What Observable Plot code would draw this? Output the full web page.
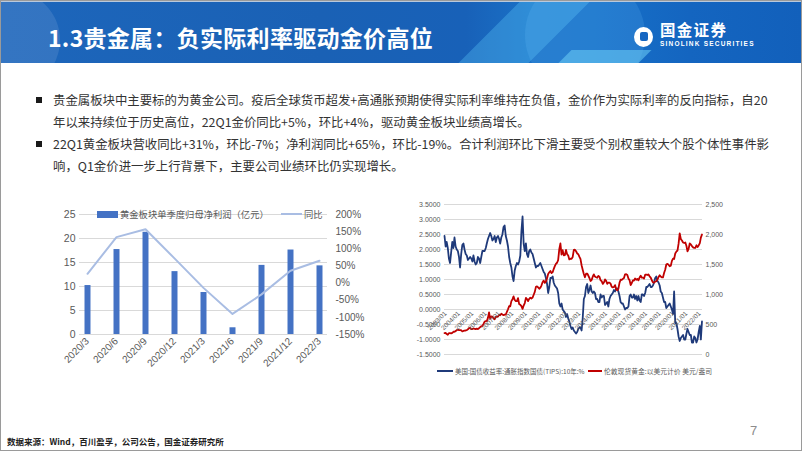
<!DOCTYPE html>
<html><head><meta charset="utf-8">
<script src="https://cdn.jsdelivr.net/npm/d3@7"></script>
<script src="https://cdn.jsdelivr.net/npm/@observablehq/plot@0.6"></script>
<style>
html,body{margin:0;padding:0;background:#fff;}
#slide{position:relative;width:802px;height:451px;overflow:hidden;background:#fff;font-family:"Noto Sans CJK SC","Noto Sans",sans-serif;}
#frame{position:absolute;left:0;top:0;width:802px;height:451px;box-sizing:border-box;border:1px solid #9a9a9a;pointer-events:none;}
#header{position:absolute;left:0;top:0;width:802px;height:63px;overflow:hidden;
 background:linear-gradient(90deg,#1d66bb 0%,#1a61b5 40%,#1861b8 58%,#1a70c6 66%,#1670c8 74%,#1465c0 86%,#1260bb 100%);}
.deco{position:absolute;border-radius:50%;}
#title{position:absolute;left:48px;top:21px;font-size:23px;font-weight:bold;color:#fff;line-height:32px;white-space:nowrap;letter-spacing:0.3px;}
.bul{position:absolute;left:36px;width:6px;height:6px;background:#1a1a1a;}
.line{position:absolute;left:53px;font-size:12.4px;line-height:18px;color:#333;white-space:nowrap;}
.lg{position:absolute;white-space:nowrap;color:#595959;}
</style></head>
<body>
<div id="slide">
  <div id="header">
    <div class="deco" style="left:-40px;top:-10px;width:100px;height:100px;background:rgba(255,255,255,0.10);"></div>
    <div style="position:absolute;left:490px;top:0;width:70px;height:63px;background:rgba(90,195,245,0.35);transform:skewX(-45deg);"></div>
    <div class="deco" style="left:525px;top:-25px;width:120px;height:120px;background:rgba(120,200,255,0.16);"></div>
    <div style="position:absolute;left:565px;top:50px;width:80px;height:13px;background:rgba(110,205,245,0.55);transform:skewX(-45deg);"></div>
    <div style="position:absolute;left:0;top:0;width:802px;height:2px;background:#b9c9dc;"></div>
    <div id="title">1.3贵金属：负实际利率驱动金价高位</div>
    <div style="position:absolute;left:634px;top:27px;width:19px;height:20px;border-radius:50%;background:#fff;"></div>
    <div style="position:absolute;left:640px;top:32px;width:8px;height:9px;border-radius:2px;background:#1566c2;"></div>
    <div style="position:absolute;left:660px;top:20px;font-size:15.5px;font-weight:bold;color:#fff;line-height:19px;letter-spacing:1.3px;">国金证券</div>
    <div style="position:absolute;left:660px;top:40px;font-size:6.5px;font-weight:bold;color:#fff;line-height:8px;font-family:'Liberation Sans',Arial,sans-serif;white-space:nowrap;letter-spacing:1.2px;">SINOLINK SECURITIES</div>
  </div>

  <div class="bul" style="top:97px"></div>
  <div class="line" style="top:91px">贵金属板块中主要标的为黄金公司。疫后全球货币超发+高通胀预期使得实际利率维持在负值，金价作为实际利率的反向指标，自20</div>
  <div class="line" style="top:113px">年以来持续位于历史高位，22Q1金价同比+5%，环比+4%，驱动黄金板块业绩高增长。</div>
  <div class="bul" style="top:141px"></div>
  <div class="line" style="top:135px">22Q1黄金板块营收同比+31%，环比-7%；净利润同比+65%，环比-19%。合计利润环比下滑主要受个别权重较大个股个体性事件影</div>
  <div class="line" style="top:157px">响，Q1金价进一步上行背景下，主要公司业绩环比仍实现增长。</div>

  <div id="left" style="position:absolute;left:40px;top:195px;"></div>
  <div id="right" style="position:absolute;left:400px;top:195px;"></div>

  <div style="position:absolute;left:97px;top:211px;width:21px;height:7px;background:#4472C4;"></div>
  <div class="lg" style="left:120px;top:207px;font-size:9.3px;line-height:14px;">黄金板块单季度归母净利润（亿元）</div>
  <div style="position:absolute;left:281px;top:213px;width:21px;height:2px;background:#A9BDE3;"></div>
  <div class="lg" style="left:304px;top:207px;font-size:9.3px;line-height:14px;">同比</div>

  <div style="position:absolute;left:437px;top:370px;width:16px;height:2px;background:#1F3A7A;"></div>
  <div class="lg" style="left:455px;top:366px;font-size:6.5px;line-height:10px;">美国:国债收益率:通胀指数国债(TIPS):10年:%</div>
  <div style="position:absolute;left:588px;top:370px;width:14px;height:2px;background:#C00000;"></div>
  <div class="lg" style="left:604px;top:366px;font-size:6.8px;line-height:10px;">伦敦现货黄金:以美元计价 美元/盎司</div>

  <div style="position:absolute;left:7px;top:435px;font-size:8.5px;font-weight:bold;color:#222;line-height:12px;white-space:nowrap;">数据来源：Wind，百川盈孚，公司公告，国金证券研究所</div>
  <div style="position:absolute;left:750px;top:422px;font-size:13px;color:#8c8c8c;line-height:18px;font-family:'Liberation Sans',Arial,sans-serif;">7</div>
  <div id="frame"></div>
</div>
<script>
// ---- Left chart data ----
const quarters = ["2020/3","2020/6","2020/9","2020/12","2021/3","2021/6","2021/9","2021/12","2022/3"];
const profit = [10.2, 17.7, 21.3, 13.1, 8.75, 1.4, 14.4, 17.6, 14.3];
const yoy = [27, 134, 157, 72, -14, -90, -33, 36, 65];
const profitTicks = [0, 5, 10, 15, 20, 25];
const yoyTicks = [-150, -100, -50, 0, 50, 100, 150, 200];

// ---- Right chart data (monthly, from 2003/01) ----
const startYear = 2003;
const tipsMonthly = [
  2.45, 2.10, 2.25, 2.05, 1.70, 1.55, 1.90, 2.25, 2.05, 2.40, 2.10, 2.00, // 2003
  1.95, 1.75, 1.40, 1.85, 2.15, 2.20, 2.00, 1.85, 1.80, 1.65, 1.70, 1.75, // 2004
  1.70, 1.60, 1.80, 1.60, 1.50, 1.55, 1.75, 1.70, 1.55, 1.75, 1.95, 1.95, // 2005
  1.95, 2.05, 2.20, 2.35, 2.45, 2.55, 2.45, 2.30, 2.35, 2.45, 2.25, 2.40, // 2006
  2.45, 2.35, 2.20, 2.40, 2.50, 2.75, 2.80, 2.45, 2.30, 2.10, 1.75, 1.55, // 2007
  1.40, 1.10, 0.95, 1.30, 1.45, 1.55, 1.50, 1.60, 1.80, 2.60, 3.10, 2.20, // 2008
  1.95, 2.20, 1.85, 1.75, 1.95, 2.00, 1.90, 1.85, 1.70, 1.55, 1.40, 1.45, // 2009
  1.45, 1.50, 1.55, 1.45, 1.35, 1.25, 1.20, 1.05, 0.85, 0.55, 0.75, 1.05, // 2010
  1.05, 1.10, 0.90, 0.80, 0.75, 0.70, 0.55, 0.20, 0.10, 0.20, 0.00, -0.05, // 2011
  -0.10, -0.25, -0.15, -0.30, -0.40, -0.55, -0.65, -0.60, -0.70, -0.75, -0.80, -0.75, // 2012
  -0.65, -0.60, -0.60, -0.70, -0.30, 0.35, 0.45, 0.75, 0.85, 0.55, 0.65, 0.80, // 2013
  0.60, 0.55, 0.60, 0.55, 0.35, 0.35, 0.25, 0.25, 0.50, 0.40, 0.45, 0.45, // 2014
  0.15, 0.20, 0.25, 0.10, 0.35, 0.45, 0.50, 0.55, 0.65, 0.60, 0.70, 0.70, // 2015
  0.60, 0.45, 0.25, 0.20, 0.20, 0.10, 0.00, 0.05, 0.05, 0.10, 0.45, 0.50, // 2016
  0.40, 0.40, 0.50, 0.35, 0.45, 0.30, 0.45, 0.30, 0.25, 0.50, 0.50, 0.45, // 2017
  0.55, 0.75, 0.75, 0.80, 0.85, 0.75, 0.75, 0.80, 0.90, 1.05, 1.10, 0.95, // 2018
  0.90, 0.80, 0.60, 0.55, 0.40, 0.25, 0.25, 0.05, 0.10, 0.15, 0.20, 0.10, // 2019
  0.00, -0.15, 0.60, -0.45, -0.45, -0.65, -0.90, -1.05, -0.95, -0.90, -0.85, -1.00, // 2020
  -1.00, -0.80, -0.65, -0.75, -0.85, -0.85, -1.10, -1.10, -0.90, -0.95, -1.10, -1.00, // 2021
  -0.75, -0.55, -1.00, -0.40 // 2022
];
const goldMonthly = [
  356, 359, 340, 328, 355, 356, 351, 360, 379, 379, 389, 407, // 2003
  414, 405, 406, 404, 384, 392, 398, 400, 406, 420, 439, 442, // 2004
  424, 424, 434, 429, 422, 430, 424, 438, 456, 470, 476, 510, // 2005
  549, 555, 557, 610, 700, 596, 633, 632, 598, 586, 627, 629, // 2006
  631, 665, 655, 679, 667, 655, 665, 665, 712, 754, 806, 803, // 2007
  889, 922, 968, 909, 888, 889, 939, 839, 829, 806, 760, 816, // 2008
  858, 943, 924, 890, 928, 946, 934, 949, 996, 1043, 1127, 1134, // 2009
  1118, 1095, 1113, 1149, 1205, 1232, 1193, 1215, 1271, 1343, 1370, 1391, // 2010
  1356, 1372, 1424, 1474, 1510, 1529, 1572, 1756, 1850, 1666, 1739, 1652, // 2011
  1656, 1742, 1673, 1650, 1585, 1596, 1594, 1626, 1744, 1747, 1721, 1684, // 2012
  1671, 1627, 1593, 1487, 1414, 1343, 1286, 1347, 1349, 1316, 1275, 1225, // 2013
  1244, 1300, 1336, 1299, 1288, 1279, 1311, 1296, 1238, 1222, 1176, 1200, // 2014
  1251, 1227, 1178, 1198, 1199, 1181, 1128, 1118, 1125, 1157, 1086, 1068, // 2015
  1097, 1199, 1246, 1242, 1260, 1276, 1337, 1340, 1326, 1267, 1238, 1157, // 2016
  1192, 1234, 1231, 1266, 1246, 1260, 1236, 1283, 1314, 1280, 1282, 1265, // 2017
  1331, 1331, 1325, 1335, 1303, 1282, 1238, 1202, 1199, 1215, 1221, 1250, // 2018
  1291, 1320, 1301, 1286, 1284, 1359, 1413, 1500, 1511, 1495, 1471, 1480, // 2019
  1560, 1597, 1592, 1683, 1715, 1733, 1847, 2020, 1922, 1900, 1866, 1858, // 2020
  1867, 1808, 1718, 1760, 1850, 1834, 1807, 1785, 1776, 1777, 1821, 1790, // 2021
  1817, 1856, 1948, 2000 // 2022
];
const tipsTicks = [-1.5, -1, -0.5, 0, 0.5, 1, 1.5, 2, 2.5, 3, 3.5];
const goldTicks = [0, 500, 1000, 1500, 2000, 2500];
const yearLabels = d3.range(2003, 2023);

const FONT = "'Liberation Sans', Arial, sans-serif";

// ---- Left chart ----
const toLeft = p => (p + 150) / 350 * 25;
const fromLeft = v => Math.round(v / 25 * 350 - 150);
const leftRows = quarters.map((q, i) => ({q, profit: profit[i], yoy: yoy[i]}));
const leftPlot = Plot.plot({
  width: 330, height: 180,
  marginLeft: 39, marginRight: 43, marginTop: 19, marginBottom: 41,
  style: {fontFamily: FONT, color: "#595959", background: "transparent"},
  x: {type: "point", domain: quarters, padding: 0.2},
  y: {domain: [0, 25]},
  marks: [
    Plot.gridY(profitTicks, {stroke: "#d9d9d9", strokeOpacity: 1}),
    Plot.ruleX(leftRows, {x: "q", y1: 0, y2: "profit", stroke: "#4472C4", strokeWidth: 6}),
    Plot.line(leftRows, {x: "q", y: d => toLeft(d.yoy), stroke: "#A9BDE3", strokeWidth: 2}),
    Plot.axisY(profitTicks, {anchor: "left", tickSize: 0, tickPadding: 4, fontSize: 10.5, label: null}),
    Plot.axisY(yoyTicks.map(toLeft), {anchor: "right", tickSize: 0, tickPadding: 8, fontSize: 10, label: null,
      tickFormat: v => fromLeft(v) + "%"}),
    Plot.axisX({anchor: "bottom", tickSize: 0, tickPadding: 5, tickRotate: -45, fontSize: 10, label: null,
      textAnchor: "end"})
  ]
});
document.getElementById("left").appendChild(leftPlot);

// ---- Right chart ----
const toTips = g => g / 2500 * 5 - 1.5;
const tipsRows = tipsMonthly.map((v, i) => ({date: new Date(Date.UTC(startYear, i, 1)), v}));
const goldRows = goldMonthly.map((v, i) => ({date: new Date(Date.UTC(startYear, i, 1)), v}));
const rightPlot = Plot.plot({
  width: 330, height: 165,
  marginLeft: 44, marginRight: 28, marginTop: 9, marginBottom: 6,
  style: {fontFamily: FONT, color: "#595959", background: "transparent"},
  x: {type: "utc", domain: [new Date(Date.UTC(2003, 0, 1)), new Date(Date.UTC(2022, 3, 15))], axis: null},
  y: {domain: [-1.5, 3.5]},
  marks: [
    Plot.gridY(tipsTicks, {stroke: "#d9d9d9", strokeOpacity: 1}),
    Plot.line(tipsRows, {x: "date", y: "v", stroke: "#1F3A7A", strokeWidth: 1.8}),
    Plot.line(goldRows, {x: "date", y: d => toTips(d.v), stroke: "#C00000", strokeWidth: 1.8}),
    Plot.axisY(tipsTicks, {anchor: "left", tickSize: 0, tickPadding: 4, fontSize: 7, label: null,
      tickFormat: v => v.toFixed(4)}),
    Plot.axisY(goldTicks.map(toTips), {anchor: "right", tickSize: 0, tickPadding: 3, fontSize: 7, label: null,
      tickFormat: v => d3.format(",")(Math.round((v + 1.5) / 5 * 2500))}),
    Plot.text(yearLabels, {x: y => new Date(Date.UTC(y, 0, 1)), y: () => 0, text: y => y + "/01",
      rotate: -45, textAnchor: "end", lineAnchor: "middle", fontSize: 6.5, fill: "#595959", dx: 1, dy: 3})
  ]
});
document.getElementById("right").appendChild(rightPlot);
</script>
</body></html>
